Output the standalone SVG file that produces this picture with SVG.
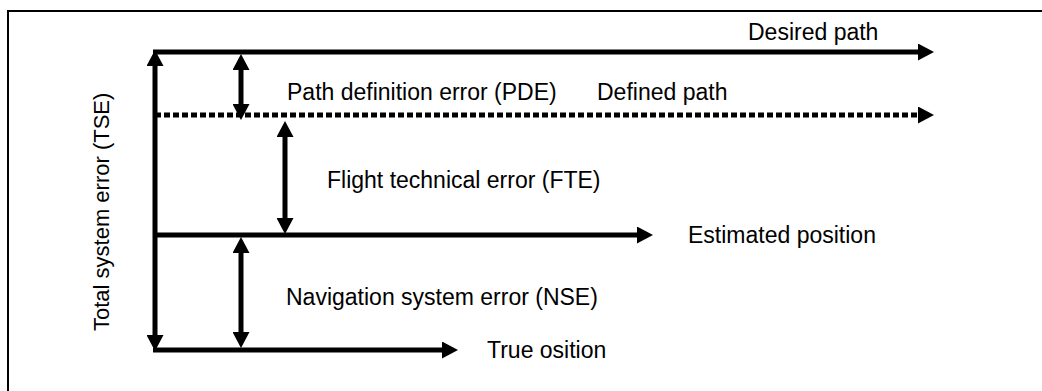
<svg xmlns="http://www.w3.org/2000/svg" width="1042" height="391" viewBox="0 0 1042 391">
  <style>
    .lbl { font-family: "Liberation Sans", Arial, sans-serif; font-size: 23px; fill: #000; }
    .vert { font-size: 22px; }
    .ln { stroke: #000; stroke-width: 5; fill: none; }
    .dot { stroke-dasharray: 6 3; }
    .frame { stroke: #000; stroke-width: 2; fill: none; }
  </style>
  <defs>
    <marker id="head" viewBox="0 -8.5 16 17" refX="0" refY="0" markerWidth="16" markerHeight="17" markerUnits="userSpaceOnUse" orient="auto-start-reverse">
      <path d="M0,-8.5 L16,0 L0,8.5 Z" fill="#000"/>
    </marker>
  </defs>

  <!-- open frame: top and left edges -->
  <path class="frame" d="M8,391 L8,11 L1042,11"/>

  <g id="connectors">
    <!-- paths -->
    <line class="ln" x1="153" y1="52" x2="918" y2="52" marker-end="url(#head)"/>
    <line class="ln dot" x1="155" y1="115" x2="918" y2="115" marker-end="url(#head)"/>
    <line class="ln" x1="153" y1="235" x2="637" y2="235" marker-end="url(#head)"/>
    <line class="ln" x1="153" y1="350" x2="442" y2="350" marker-end="url(#head)"/>
    <!-- error spans -->
    <line class="ln" x1="155" y1="66" x2="155" y2="335" marker-start="url(#head)" marker-end="url(#head)"/>
    <line class="ln" x1="241" y1="70" x2="241" y2="104" marker-start="url(#head)" marker-end="url(#head)"/>
    <line class="ln" x1="285" y1="137" x2="285" y2="218" marker-start="url(#head)" marker-end="url(#head)"/>
    <line class="ln" x1="241" y1="253" x2="241" y2="332" marker-start="url(#head)" marker-end="url(#head)"/>
  </g>

  <g id="desired-path"><text class="lbl" x="748" y="40">Desired path</text></g>
  <g id="defined-path"><text class="lbl" x="597" y="100">Defined path</text></g>
  <g id="pde"><text class="lbl" x="287" y="100">Path definition error (PDE)</text></g>
  <g id="fte"><text class="lbl" x="327" y="188">Flight technical error (FTE)</text></g>
  <g id="estimated-position"><text class="lbl" x="688" y="243">Estimated position</text></g>
  <g id="nse"><text class="lbl" x="286" y="305">Navigation system error (NSE)</text></g>
  <g id="true-position"><text class="lbl" x="487" y="358">True osition</text></g>
  <g id="tse"><text class="lbl vert" transform="translate(109,331) rotate(-90)">Total system error  (TSE)</text></g>
</svg>
